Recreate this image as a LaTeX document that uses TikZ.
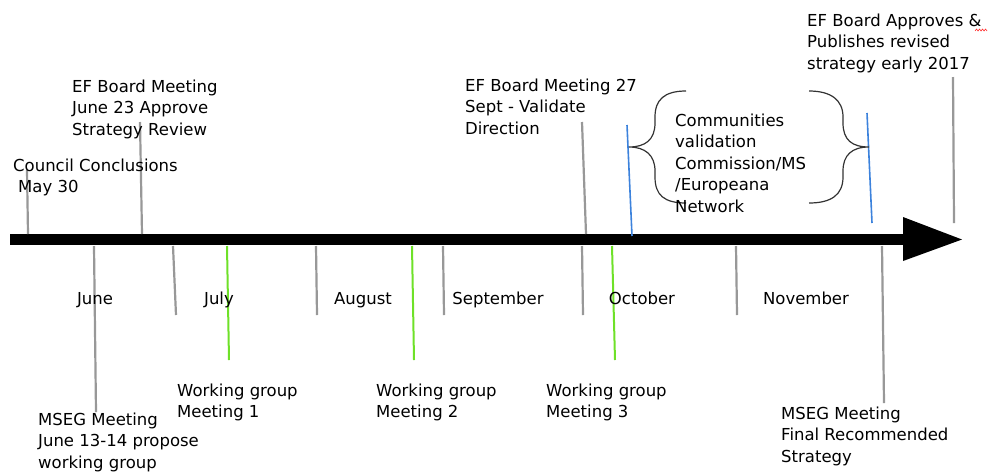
\documentclass[tikz,border=0pt]{standalone}
\usepackage{fontspec}
\setmainfont{DejaVu Sans}
\definecolor{tickgray}{RGB}{152,152,152}
\definecolor{wggreen}{RGB}{110,225,40}
\definecolor{valblue}{RGB}{60,130,220}
\begin{document}
\begin{tikzpicture}[x=1pt,y=-1pt,
  lbl/.style={font=\fontsize{16.5}{21.5}\selectfont, align=left, inner sep=0pt, anchor=north west},
  month/.style={font=\fontsize{16.5}{20}\selectfont, inner sep=0pt, anchor=base},
  tick/.style={draw=tickgray, line width=2.2pt},
  wgtick/.style={draw=wggreen, line width=2pt},
  bluetick/.style={draw=valblue, line width=1.6pt},
  bracepath/.style={draw=black!80, line width=1.2pt},
]
\useasboundingbox (0,0) rectangle (992,472);

% timeline bar and arrowhead
\fill[black] (10,234) rectangle (905,245);
\fill[black] (903,217) -- (962,239.5) -- (903,261) -- cycle;

% ticks above the bar
\draw[tick] (27,170) -- (28,234);
\draw[tick] (140,122) -- (142,234);
\draw[tick] (582,122) -- (586,234);
\draw[tick] (953,77) -- (954,223);
\draw[bluetick] (627,125) -- (632,236);
\draw[bluetick] (867,113) -- (872,223);

% ticks below the bar
\draw[tick] (94,246) -- (96,412);
\draw[tick] (173,246) -- (176,315);
\draw[tick] (316,246) -- (317,315);
\draw[tick] (443,246) -- (444,315);
\draw[tick] (582,246) -- (583,315);
\draw[tick] (736,246) -- (737,315);
\draw[tick] (882,246) -- (884,403);
\draw[wgtick] (227,246) -- (229,360);
\draw[wgtick] (412,246) -- (414,360);
\draw[wgtick] (612,246) -- (615,360);

% braces
\draw[bracepath] (686,91) .. controls (664,91) and (655,100) .. (655,117)
  -- (655,123) .. controls (655,140) and (645,147) .. (629,147)
  .. controls (645,147) and (655,155) .. (655,171)
  -- (655,177) .. controls (655,195) and (664,203) .. (686,203);
\draw[bracepath] (809,91) .. controls (831,91) and (843,100) .. (843,117)
  -- (843,123) .. controls (843,140) and (852,147) .. (869,147)
  .. controls (852,147) and (843,155) .. (843,171)
  -- (843,177) .. controls (843,195) and (831,203) .. (809,203);

% labels above
\node[lbl] (council) at (13,156) {\strut Council Conclusions\\\hspace*{5pt}May 30};
\node[lbl] (efjune) at (72,77) {\strut EF Board Meeting\\June 23 Approve\\Strategy Review};
\node[lbl] (efsept) at (465,76) {\strut EF Board Meeting 27\\Sept - Validate\\Direction};
\node[lbl] (efpub) at (807,11) {\strut EF Board Approves \&\\Publishes revised\\strategy early 2017};
\node[lbl] (comm) at (675,111) {\strut Communities\\validation\\Commission/MS\\/Europeana\\Network};
\draw[red!80, line width=0.6pt] (975,31) -- (976.5,29) -- (978,31) -- (979.5,29) -- (981,31) -- (982.5,29) -- (984,31) -- (985.5,29) -- (987,31);

% months
\node[month] (jun) at (95,304) {June};
\node[month] (jul) at (219,304) {July};
\node[month] (aug) at (363,304) {August};
\node[month] (sep) at (498,304) {September};
\node[month] (oct) at (642,304) {October};
\node[month] (nov) at (806,304) {November};

% labels below
\node[lbl] (mseg1) at (38,410) {\strut MSEG Meeting\\June 13-14 propose\\working group};
\node[lbl] (wg1) at (177,381) {\strut Working group\\Meeting 1};
\node[lbl] (wg2) at (376,381) {\strut Working group\\Meeting 2};
\node[lbl] (wg3) at (546,381) {\strut Working group\\Meeting 3};
\node[lbl] (mseg2) at (781,404) {\strut MSEG Meeting\\Final Recommended\\Strategy};
\end{tikzpicture}
\end{document}
